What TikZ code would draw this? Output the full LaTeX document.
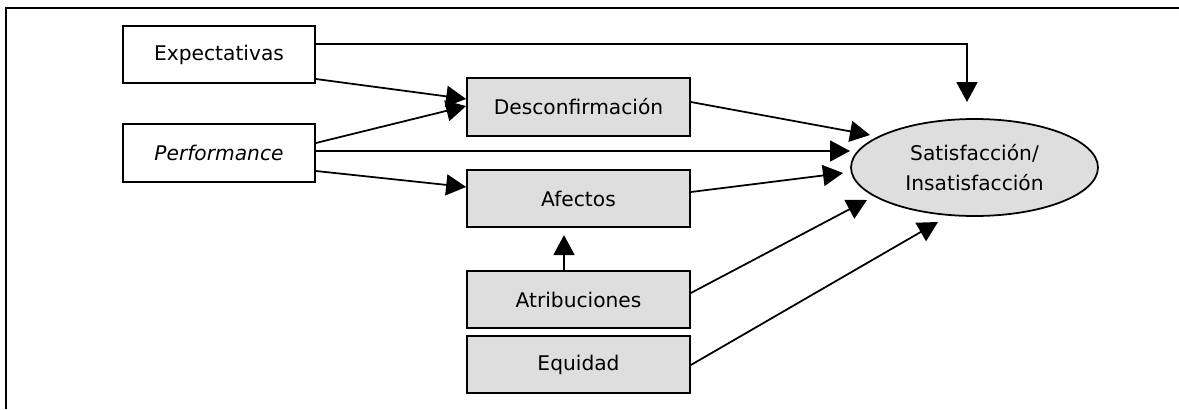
\documentclass[tikz,border=0pt]{standalone}
\usepackage{fontspec}
\setmainfont{DejaVu Sans}
\usetikzlibrary{arrows.meta,calc,shapes.geometric}

\tikzset{
  caja/.style={draw, line width=1pt, inner sep=0pt, minimum width=3.84cm,
    minimum height=1.15cm, font=\fontsize{11.5}{14}\selectfont},
  gris/.style={caja, fill=black!13, minimum width=4.46cm},
  flecha/.style={line width=1pt, -{Triangle[length=0.4cm,width=0.42cm]}}
}

\begin{document}
\begin{tikzpicture}[x=0.02cm,y=-0.02cm]
        \useasboundingbox (0,0) rectangle (1179,409);
        \draw[line width=1.6pt] (6,409) -- (6,8) -- (1179,8);
        % cajas
        \node[caja] (expect) at (219,54.5) {Expectativas};
        \node[caja] (perf) at (219,153) {\textit{Performance}};
        \node[gris] (desc) at (578.5,107) {Desconfirmación};
        \node[gris] (afect) at (578.5,198.5) {Afectos};
        \node[gris] (atrib) at (578.5,299.5) {Atribuciones};
        \node[gris] (equid) at (578.5,364.5) {Equidad};
        \node[ellipse, draw, line width=1pt, fill=black!13, inner sep=0pt,
          minimum width=4.94cm, minimum height=1.94cm, align=center,
          font=\fontsize{11.5}{17}\selectfont] (sat) at (974.5,167.5)
          {Satisfacción/\\Insatisfacción};
        % puntas libres
        \coordinate (s1) at (967,102);
        \coordinate (s2) at (850,151);
        \coordinate (s3) at (870,135);
        \coordinate (s4) at (843,173);
        \coordinate (s5) at (867,200);
        \coordinate (s6) at (938,222);
        % flechas
        \draw[flecha] ($(expect.east)+(0,-10.5)$) -| (s1);
        \draw[flecha] ($(expect.east)+(0,24.5)$) -- ($(desc.west)+(0,-8)$);
        \draw[flecha] ($(perf.east)+(0,-10)$) -- ($(desc.west)+(0,-1)$);
        \draw[flecha] ($(perf.east)+(0,-2)$) -- (s2);
        \draw[flecha] ($(perf.east)+(0,18)$) -- ($(afect.west)+(0,-11.5)$);
        \draw[flecha] ($(desc.east)+(0,-5)$) -- (s3);
        \draw[flecha] ($(afect.east)+(0,-6.5)$) -- (s4);
        \draw[flecha] ($(atrib.east)+(0,-6.5)$) -- (s5);
        \draw[flecha] ($(equid.east)+(0,0.5)$) -- (s6);
        \draw[flecha] ($(atrib.north)+(-14.5,0)$) -- ($(afect.south)+(-14.5,7)$);
\end{tikzpicture}
\end{document}
